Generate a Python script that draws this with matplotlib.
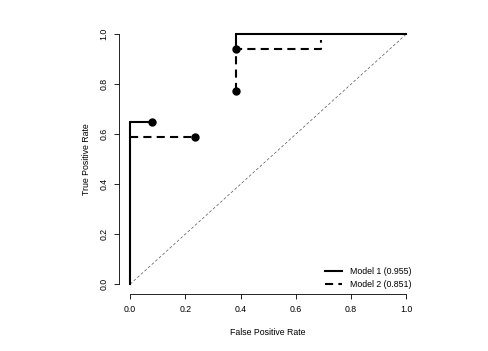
import matplotlib
matplotlib.use("Agg")
import matplotlib.pyplot as plt

plt.rcParams["font.family"] = ["Liberation Sans", "DejaVu Sans"]

# Model 1 (solid) segments
m1_seg1_x = [0.0, 0.0, 0.08]
m1_seg1_y = [0.0, 0.647, 0.647]
m1_seg2_x = [0.385, 0.385, 1.0]
m1_seg2_y = [0.94, 1.0, 1.0]
m1_pts_x = [0.08, 0.385]
m1_pts_y = [0.647, 0.94]

# Model 2 (dashed) segments
m2_seg1_x = [0.0, 0.235]
m2_seg1_y = [0.588, 0.588]
m2_seg2_x = [0.385, 0.385, 0.69, 0.69]
m2_seg2_y = [0.772, 0.94, 0.94, 0.976]
m2_pts_x = [0.235, 0.385]
m2_pts_y = [0.588, 0.772]

labels = ["Model 1 (0.955)", "Model 2 (0.851)"]
ticks = [0.0, 0.2, 0.4, 0.6, 0.8, 1.0]

fs = 6.3
dash = (0, (3.9, 2.5))

fig = plt.figure(figsize=(4.88, 3.51), dpi=100)
ax = fig.add_axes([0.244, 0.162, 0.611, 0.769])

ax.plot([0, 1], [0, 1], color="#555555", lw=0.5, ls=(0, (4, 3)))
l1, = ax.plot(m1_seg1_x, m1_seg1_y, color="black", lw=1.5, solid_joinstyle="miter")
ax.plot(m1_seg2_x, m1_seg2_y, color="black", lw=1.5, solid_joinstyle="miter")
ax.plot(m1_pts_x, m1_pts_y, "o", color="black", ms=5)
l2, = ax.plot(m2_seg1_x, m2_seg1_y, color="black", lw=1.5, ls=dash)
ax.plot(m2_seg2_x, m2_seg2_y, color="black", lw=1.5, ls=dash)
ax.plot(m2_pts_x, m2_pts_y, "o", color="black", ms=5)

ax.set_xlim(-0.04, 1.04)
ax.set_ylim(-0.04, 1.04)
for s in ["top", "right"]:
    ax.spines[s].set_visible(False)
ax.spines["left"].set_bounds(0, 1)
ax.spines["bottom"].set_bounds(0, 1)
ax.spines["left"].set_linewidth(0.6)
ax.spines["bottom"].set_linewidth(0.6)
ax.set_xticks(ticks)
ax.set_yticks(ticks)
ax.set_xticklabels([f"{t:.1f}" for t in ticks], fontsize=fs)
ax.set_yticklabels([f"{t:.1f}" for t in ticks], fontsize=fs, rotation=90, va="center")
ax.tick_params(length=3.5, width=0.6, pad=4.3)
ax.set_xlabel("False Positive Rate", fontsize=fs, labelpad=10)
ax.set_ylabel("True Positive Rate", fontsize=fs, labelpad=6)

ax.legend([l1, l2], labels, loc="lower right", bbox_to_anchor=(1.0, 0.0),
          frameon=False, fontsize=fs,
          handlelength=1.9, handletextpad=1.0, borderaxespad=0.3,
          borderpad=0.3, labelspacing=0.4)

fig.savefig("out.png", dpi=100)
